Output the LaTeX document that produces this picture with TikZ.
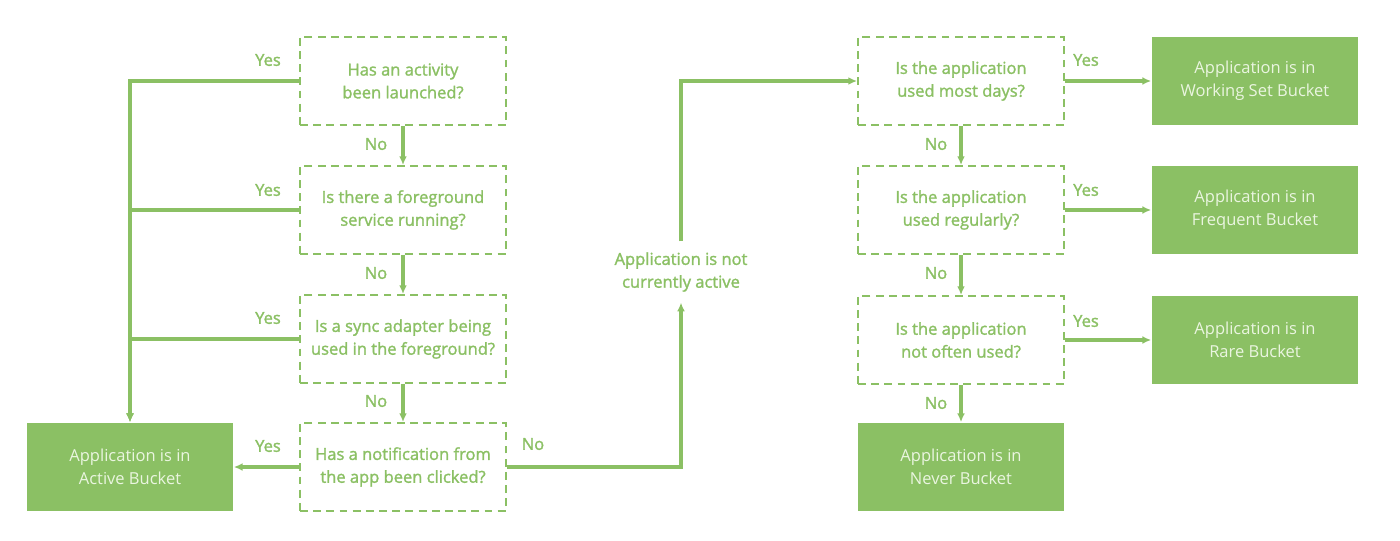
\documentclass[tikz,border=0pt]{standalone}
\usepackage{fontspec}
\setmainfont{Open Sans}
\newfontfamily\mediumfont[FakeBold=1.6]{Open Sans}
\usepackage{xcolor}
\usepackage{tikz}
\usetikzlibrary{arrows.meta}
\definecolor{leaf}{HTML}{8BC064}
\definecolor{leafpale}{HTML}{EAF5E0}

\begin{document}
\begin{tikzpicture}[x=0.02cm,y=-0.02cm,
    question/.style={draw=leaf,line width=1.1pt,dash pattern=on 4.5pt off 3pt,
        minimum width=4.12cm,minimum height=1.76cm,align=center,text=leaf,
        font=\mediumfont\fontsize{9.4}{13}\selectfont},
    bucket/.style={fill=leaf,minimum width=4.14cm,minimum height=1.78cm,
        align=center,text=leafpale,font=\fontsize{9.4}{13}\selectfont},
    answer/.style={text=leaf,font=\mediumfont\fontsize{9.4}{13}\selectfont},
    flow/.style={draw=leaf,line width=1.8pt,-{Latex[length=5pt,width=4.5pt]}}]
\useasboundingbox (0,0) rectangle (1400,541);

% left column
\node[question] at (403,81) (q1) {Has an activity\\been launched?};
\node[question] at (403,210) (q2) {Is there a foreground\\service running?};
\node[question] at (403,339) (q3) {Is a sync adapter being\\used in the foreground?};
\node[question] at (403,467) (q4) {Has a notification from\\the app been clicked?};
\node[bucket] at (130,467) (active) {Application is in\\Active Bucket};

\node[answer] at (268,60) (y1) {Yes};
\node[answer] at (268,190) (y2) {Yes};
\node[answer] at (268,318) (y3) {Yes};
\node[answer] at (268,446) (y4) {Yes};
\node[answer] at (376,144) (n1) {No};
\node[answer] at (376,273) (n2) {No};
\node[answer] at (376,401) (n3) {No};
\node[answer] at (533,444) (n4) {No};

\draw[flow] (q1.west) -| (active.north);
\draw[flow] (q2.west) -| (active.north);
\draw[flow] (q3.west) -| (active.north);
\draw[flow] (q4.west) -- (active.east);
\draw[flow] (q1.south) -- (q2.north);
\draw[flow] (q2.south) -- (q3.north);
\draw[flow] (q3.south) -- (q4.north);

% middle
\node[answer,align=center,inner ysep=6pt] at (681,272) (inactive)
    {Application is not\\currently active};
\draw[flow] (q4.east) -| (inactive.south);

% right column
\node[question] at (961,81) (r1) {Is the application\\used most days?};
\node[question] at (961,210) (r2) {Is the application\\used regularly?};
\node[question] at (961,340) (r3) {Is the application\\not often used?};
\node[bucket] at (961,467) (never) {Application is in\\Never Bucket};
\node[bucket] at (1255,81) (working) {Application is in\\Working Set Bucket};
\node[bucket] at (1255,210) (frequent) {Application is in\\Frequent Bucket};
\node[bucket] at (1255,340) (rare) {Application is in\\Rare Bucket};

\node[answer] at (1086,60) (y5) {Yes};
\node[answer] at (1086,190) (y6) {Yes};
\node[answer] at (1086,321) (y7) {Yes};
\node[answer] at (936,144) (n5) {No};
\node[answer] at (936,273) (n6) {No};
\node[answer] at (936,403) (n7) {No};

\draw[flow] (inactive.north) |- (r1.west);
\draw[flow] (r1.east) -- (working.west);
\draw[flow] (r2.east) -- (frequent.west);
\draw[flow] (r3.east) -- (rare.west);
\draw[flow] (r1.south) -- (r2.north);
\draw[flow] (r2.south) -- (r3.north);
\draw[flow] (r3.south) -- (never.north);
\end{tikzpicture}
\end{document}
